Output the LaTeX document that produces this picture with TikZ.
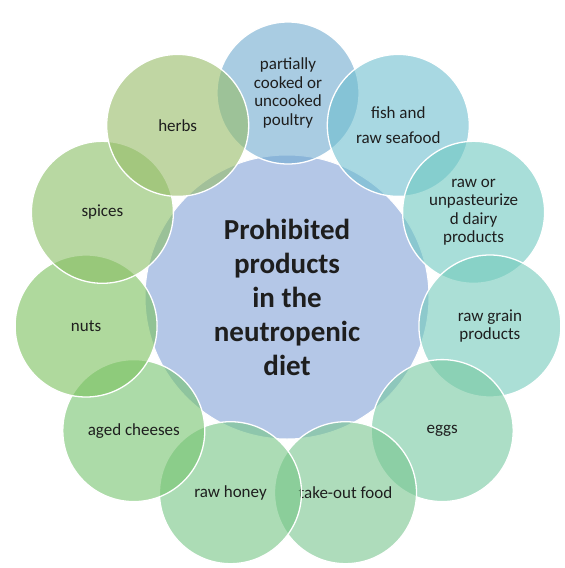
\documentclass[tikz,border=0pt]{standalone}
\usepackage{fontspec}
\setmainfont{Carlito}
\definecolor{cblue}{RGB}{180,199,231}
\definecolor{c1}{RGB}{112,170,208}
\definecolor{c2}{RGB}{110,190,207}
\definecolor{c3}{RGB}{110,200,193}
\definecolor{c4}{RGB}{115,203,187}
\definecolor{c5}{RGB}{118,200,160}
\definecolor{c6}{RGB}{120,198,143}
\definecolor{c7}{RGB}{117,198,133}
\definecolor{c8}{RGB}{118,195,110}
\definecolor{c9}{RGB}{123,193,93}
\definecolor{c10}{RGB}{137,190,100}
\definecolor{c11}{RGB}{150,188,103}
\definecolor{txt}{RGB}{30,30,30}
\begin{document}
\begin{tikzpicture}[x=1pt,y=-1pt]
\tikzset{
  hub/.style={circle, minimum size=284pt, inner sep=0pt, fill=cblue, draw=white, line width=1pt,
    align=center, text=txt, font=\fontsize{29}{34}\selectfont\bfseries},
  item/.style={circle, minimum size=142pt, inner sep=0pt, draw=white, line width=1.3pt,
    fill opacity=0.6, text opacity=1, align=center, text=txt,
    font=\fontsize{17}{18.5}\selectfont}
}
\useasboundingbox (0,0) rectangle (565,568);
\fill[white] (0,0) rectangle (565,568);
\node[hub] (hub) at (287,297) {Prohibited\\products\\in the\\neutropenic\\diet};
\node[item, fill=c1]  (poultry) at (288,93)    {partially\\cooked or\\uncooked\\poultry};
\node[item, fill=c2]  (fish)    at (398.3,125.4) {fish and\\[6pt]raw seafood};
\node[item, fill=c3]  (dairy)   at (473.6,212.3) {raw or\\unpasteurize\\d dairy\\products};
\node[item, fill=c4]  (grain)   at (489.9,326) {raw grain\\products};
\node[item, fill=c5]  (eggs)    at (442.2,430.6) {eggs};
\node[item, fill=c6]  (takeout) at (345.5,492.7) {take-out food};
\node[item, fill=c7]  (honey)   at (230.5,492.7) {raw honey};
\node[item, fill=c8]  (cheese)  at (133.8,430.6) {aged cheeses};
\node[item, fill=c9]  (nuts)    at (86.1,326)  {nuts};
\node[item, fill=c10] (spices)  at (102.4,212.3) {spices};
\node[item, fill=c11] (herbs)   at (177.7,125.4) {herbs};
\end{tikzpicture}
\end{document}
